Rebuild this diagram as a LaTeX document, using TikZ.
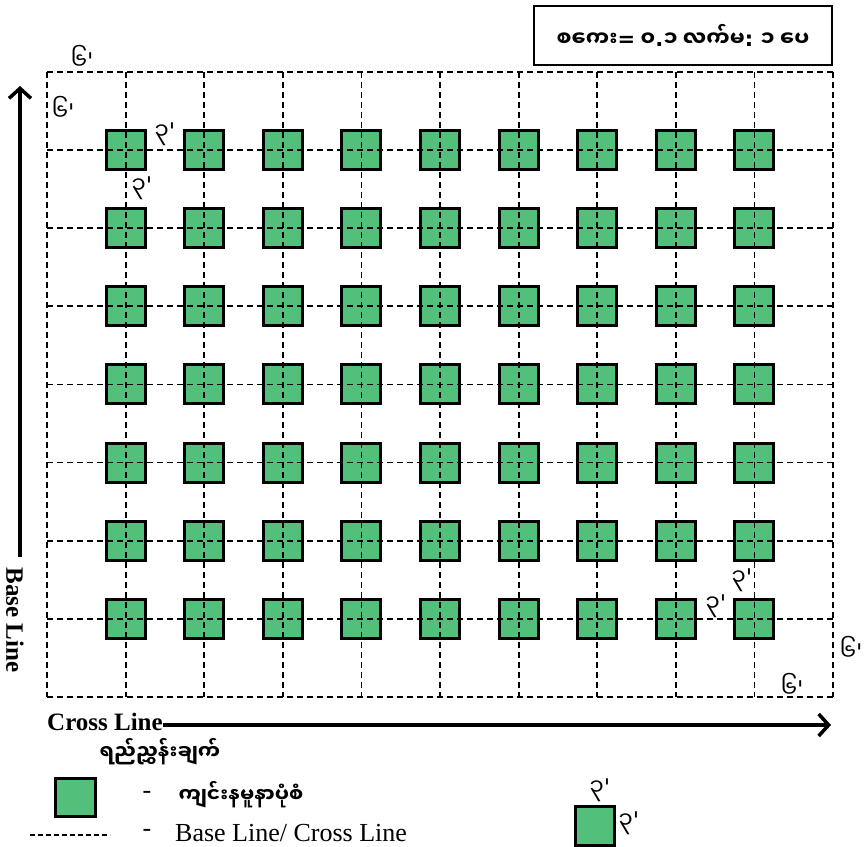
\documentclass[tikz,border=0pt]{standalone}
\usepackage{fontspec}
\setmainfont{Liberation Serif}
\newfontfamily\mm[Script=Myanmar]{Noto Sans Myanmar UI}
\newfontfamily\punct{DejaVu Sans}
\newcommand\pq[1]{{\punct #1}}
\usetikzlibrary{arrows.meta}
\definecolor{pitgreen}{RGB}{82,192,122}
\begin{document}
\begin{tikzpicture}[x=1pt,y=-1pt,
  gridline/.style={dash pattern=on 6pt off 4pt, line width=1.8pt},
  pit/.style={draw, line width=3pt, fill=pitgreen, minimum width=39pt, minimum height=39pt, inner sep=0pt},
  dimlbl/.style={font=\mm\fontsize{23}{23}\selectfont, inner sep=0pt},
  bigarrow/.style={line width=3.5pt, -{Straight Barb[length=10pt,width=22pt,line width=3.5pt]}},
  latinbold/.style={font=\bfseries\fontsize{25}{25}\selectfont, inner sep=0pt},
  latin/.style={font=\fontsize{26}{26}\selectfont, inner sep=0pt}
]
\useasboundingbox (0,0) rectangle (866,846);
% pits
\foreach \i in {1,...,9}{\foreach \j in {1,...,7}{
  \node[pit] (p\i-\j) at ({47+\i*78.6},{72+\j*78.1}) {};
}}
% grid end points
\foreach \i in {0,...,10}{
  \coordinate (t\i) at ({47+\i*78.6},72);
  \coordinate (b\i) at ({47+\i*78.6},697);
}
\foreach \j in {0,...,8}{
  \coordinate (l\j) at (47,{72+\j*78.1});
  \coordinate (r\j) at (833,{72+\j*78.1});
}
\foreach \i in {0,...,10}{\draw[gridline] (t\i) -- (b\i);}
\foreach \j in {0,...,8}{\draw[gridline] (l\j) -- (r\j);}
% dimension labels
\node[dimlbl] (d1) at (82,57) {၆\pq{'}};
\node[dimlbl] (d2) at (63,108) {၆\pq{'}};
\node[dimlbl] (d3) at (165,134) {၃\pq{'}};
\node[dimlbl] (d4) at (142,188) {၃\pq{'}};
\node[dimlbl] (d5) at (742,580) {၃\pq{'}};
\node[dimlbl] (d6) at (716,606) {၃\pq{'}};
\node[dimlbl] (d7) at (851,648) {၆\pq{'}};
\node[dimlbl] (d8) at (792,685) {၆\pq{'}};
% scale box
\node[draw, line width=2pt, minimum width=298pt, minimum height=59pt, inner sep=0pt,
      font=\mm\bfseries\fontsize{21}{21}\selectfont] (scale) at (683,35)
      {စကေး\pq{\bfseries=} ၀\pq{\bfseries.}၁ လက်မ\pq{\bfseries:} ၁ ပေ};
% axes
\coordinate (ybot) at (20,557);
\coordinate (ytop) at (20,86);
\draw[bigarrow] (ybot) -- (ytop);
\node[latinbold, rotate=-90] (baseline) at (15,620) {Base Line};
\node[latinbold, anchor=base west] (crossline) at (47,730) {Cross Line};
\coordinate (xend) at (831,725);
\draw[bigarrow] (crossline.base east) ++(0,-5) coordinate (xstart) (xstart) -- (xend);
% legend
\node[font=\mm\bfseries\fontsize{20}{20}\selectfont, inner sep=0pt] (legtitle) at (160,752) {ရည်ညွှန်းချက်};
\node[pit, minimum width=40pt, minimum height=38pt] (legpit) at (75,797) {};
\node[latin] (dash1) at (147,795) {-};
\node[font=\mm\bfseries\fontsize{20}{20}\selectfont, inner sep=0pt] (legpittxt) at (241,795) {ကျင်းနမူနာပုံစံ};
\coordinate (lds) at (30,835);
\coordinate (lde) at (110,835);
\draw[dash pattern=on 5pt off 3pt, line width=1.3pt] (lds) -- (lde);
\node[latin] (dash2) at (147,833) {-};
\node[latin, anchor=west] (leglinetxt) at (175,833) {Base Line/ Cross Line};
\node[pit] (sizepit) at (595,826) {};
\node[dimlbl] (sz1) at (600,790) {၃\pq{'}};
\node[dimlbl] (sz2) at (629,823) {၃\pq{'}};
\end{tikzpicture}
\end{document}
